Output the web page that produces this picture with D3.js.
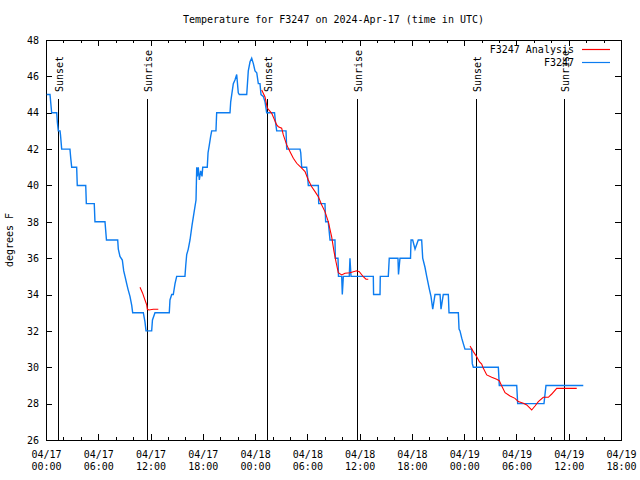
<!DOCTYPE html>
<html>
<head>
<meta charset="utf-8">
<script src="https://cdn.jsdelivr.net/npm/d3@7"></script>
<style>
  html, body { margin: 0; padding: 0; background: #fff; }
  svg { display: block; }
  text { font-family: "DejaVu Sans Mono", "Liberation Mono", monospace; font-size: 10px; fill: #000; }
</style>
</head>
<body>
<svg id="chart" width="640" height="480"></svg>
<script>
// ---------------- DATA ----------------
const titleText = "Temperature for F3247 on 2024-Apr-17 (time in UTC)";
const yLabelText = "degrees F";
const seriesNames = ["F3247 Analysis", "F3247"];

// Observations (hours after 2024-04-17 00:00 UTC, degrees F)
const obsHours = [0.08,0.46,0.65,1.23,1.30,1.41,1.61,1.66,1.80,2.75,2.84,2.95,3.52,3.59,4.56,4.63,5.54,5.62,6.77,6.94,8.23,8.30,8.49,8.76,8.92,9.07,9.26,9.41,9.64,9.84,9.95,11.17,11.36,11.48,12.13,12.22,12.51,14.15,14.23,14.43,14.61,14.81,15.00,15.95,16.04,16.15,16.33,16.53,16.76,16.99,17.22,17.30,17.37,17.48,17.60,17.76,17.91,17.99,18.51,18.60,18.74,18.90,19.02,19.51,19.59,21.12,21.20,21.32,21.50,21.69,21.89,22.07,22.19,23.04,23.22,23.42,23.61,23.80,23.99,24.19,24.37,24.56,24.68,24.94,25.14,25.33,26.23,26.34,26.48,27.55,27.63,29.16,29.24,29.35,29.92,29.99,30.11,31.26,31.30,32.02,32.10,32.40,32.60,32.79,33.17,33.21,33.52,33.57,33.94,34.01,34.13,34.81,34.89,35.01,37.57,37.60,38.34,38.37,39.29,39.40,40.40,40.46,40.63,41.84,41.90,42.09,42.36,42.73,43.12,43.24,43.50,43.70,44.00,44.19,44.39,44.65,45.23,45.34,45.60,46.18,46.26,47.33,47.41,47.52,47.72,47.90,48.09,48.86,48.93,49.05,51.92,52.03,54.03,54.14,57.16,57.39,61.67];
const obsTemps = [45,45,44,44,43.5,43,43,42.8,42,42,41.5,41,41,40,40,39,39,38,38,37,37,36.5,36.1,35.9,35.3,35,34.6,34.3,33.9,33.4,33,33,32.5,32,32,32.6,33,33,33.7,34,34,34.6,35,35,35.6,36.2,36.5,37,37.8,38.5,39.2,41,40.5,41,40.3,40.8,40.5,41,41,41.8,42.2,42.7,43,43,44,44,44.6,45,45.6,45.8,46.1,45.1,45,45,46.3,46.8,47,46.7,46.3,46.2,45.6,45.6,45,44.9,44.6,44,44,43.5,43,43,42,42,41.8,41,41,40.7,40,40,39,39,38,38,37,37,37,36,36,35,35,34,35,35,36,35,35,34,34,35,35,36,36,35.1,36,36,37,37,36.5,37,37,36,35.5,35,34.3,33.9,33.2,34,34,33.2,34,34,33,33,32.1,32,31.6,31.3,31,31,30.2,30,30,29,29,28,28,29,29];

// Analysis (null separates the segments)
const anaHours = [10.79,11.08,11.36,11.56,11.63,11.82,12.32,12.89,null,
  24.76,25.14,25.40,25.91,26.48,26.67,27.05,27.24,27.63,28.01,28.39,28.78,29.35,29.73,30.11,30.50,30.88,31.26,31.65,32.02,32.40,32.79,33.06,33.29,33.55,33.94,34.32,34.89,35.66,35.96,36.42,36.73,36.99,null,
  48.67,49.05,49.44,49.74,50.01,50.20,50.59,51.16,51.73,52.03,52.31,52.69,53.26,53.83,54.21,54.79,55.18,55.75,56.13,56.51,57.08,57.66,58.05,58.62,60.92];
const anaTemps = [34.4,34.09,33.7,33.43,33.19,33.15,33.19,33.19,null,
  45.25,44.87,44.26,43.97,43.33,43.23,43.15,42.78,42.23,41.86,41.5,41.22,40.95,40.76,40.3,39.93,39.66,39.38,38.93,38.56,38.01,37.17,36.36,35.79,35.2,35.08,35.17,35.2,35.31,35.26,34.98,34.84,34.84,null,
  31.17,30.86,30.58,30.31,30.18,29.94,29.58,29.45,29.34,29.26,28.97,28.6,28.42,28.29,28.11,28.02,27.93,27.65,27.87,28.11,28.35,28.35,28.53,28.84,28.84];

// Sun events (hours after 2024-04-17 00:00 UTC)
const sunLabels = ["Sunset","Sunrise","Sunset","Sunrise","Sunset","Sunrise"];
const sunHours  = [1.32, 11.63, 25.37, 35.66, 49.36, 59.49];
const sunLineTopTemp = 44.75;

const yTicks = [26,28,30,32,34,36,38,40,42,44,46,48];
const xMajorStepHours = 6, xMinorStepHours = 2, xSpanHours = 66;

// ---------------- DRAW ----------------
const W = 640, H = 480;
const plot = { left: 46, right: 621, top: 40, bottom: 440 };
const t0 = Date.UTC(2024, 3, 17, 0, 0);
const hToDate = h => new Date(t0 + h * 3600e3);

const x = d3.scaleUtc().domain([hToDate(0), hToDate(xSpanHours)]).range([plot.left, plot.right]);
const y = d3.scaleLinear().domain([26, 48]).range([plot.bottom, plot.top]);

const svg = d3.select("#chart");
svg.append("rect").attr("width", W).attr("height", H).attr("fill", "#fff");

const majorDates = d3.range(0, xSpanHours + 0.01, xMajorStepHours).map(hToDate);
const minorDates = d3.range(0, xSpanHours + 0.01, xMinorStepHours).filter(h => h % xMajorStepHours !== 0).map(hToDate);

const fmtDay = d3.utcFormat("%m/%d"), fmtTime = d3.utcFormat("%H:%M");

// bottom axis (major with labels)
const gx = svg.append("g").attr("transform", `translate(0,${plot.bottom})`)
  .call(d3.axisBottom(x).tickValues(majorDates).tickSizeInner(-6).tickSizeOuter(0).tickPadding(11).tickFormat(fmtDay));
gx.selectAll(".tick text").each(function(d) {
  const t = d3.select(this);
  t.text(null).attr("dy", null);
  t.append("tspan").attr("x", 0).attr("dy", "0.71em").text(fmtDay(d));
  t.append("tspan").attr("x", 0).attr("dy", "1.15em").text(fmtTime(d));
});
svg.append("g").attr("transform", `translate(0,${plot.bottom})`)
  .call(d3.axisBottom(x).tickValues(minorDates).tickSizeInner(-3).tickSizeOuter(0).tickFormat(""));
// top axis (mirror)
svg.append("g").attr("transform", `translate(0,${plot.top})`)
  .call(d3.axisTop(x).tickValues(majorDates).tickSizeInner(-6).tickSizeOuter(0).tickFormat(""));
svg.append("g").attr("transform", `translate(0,${plot.top})`)
  .call(d3.axisTop(x).tickValues(minorDates).tickSizeInner(-3).tickSizeOuter(0).tickFormat(""));
// left axis
svg.append("g").attr("transform", `translate(${plot.left},0)`)
  .call(d3.axisLeft(y).tickValues(yTicks).tickSizeInner(-6).tickSizeOuter(0).tickPadding(7).tickFormat(d3.format("d")));
// right axis (mirror)
svg.append("g").attr("transform", `translate(${plot.right},0)`)
  .call(d3.axisRight(y).tickValues(yTicks).tickSizeInner(-6).tickSizeOuter(0).tickFormat(""));

svg.selectAll(".domain").remove();
svg.selectAll(".tick line").attr("stroke", "#000").attr("shape-rendering", "crispEdges");
svg.selectAll(".tick text").attr("font-family", null).attr("font-size", null).attr("fill", "#000");

// border
svg.append("rect")
  .attr("x", plot.left + 0.5).attr("y", plot.top + 0.5)
  .attr("width", plot.right - plot.left).attr("height", plot.bottom - plot.top)
  .attr("fill", "none").attr("stroke", "#000").attr("shape-rendering", "crispEdges");

// sun event lines
const sunData = sunHours.map((h, i) => ({ t: hToDate(h), label: sunLabels[i] }));
const sg = svg.append("g");
sg.selectAll("line").data(sunData).join("line")
  .attr("x1", d => Math.round(x(d.t)) + 0.5).attr("x2", d => Math.round(x(d.t)) + 0.5)
  .attr("y1", y(sunLineTopTemp)).attr("y2", y(26))
  .attr("stroke", "#000").attr("shape-rendering", "crispEdges");
sg.selectAll("text").data(sunData).join("text")
  .attr("transform", d => `translate(${Math.round(x(d.t)) + 5},${y(sunLineTopTemp) - 7}) rotate(-90)`)
  .attr("text-anchor", "start")
  .text(d => d.label);

// series lines
const obs = obsHours.map((h, i) => ({ t: hToDate(h), v: obsTemps[i] }));
const ana = anaHours.map((h, i) => ({ t: h === null ? null : hToDate(h), v: anaTemps[i] }));

const line = d3.line().defined(d => d.t !== null && d.v !== null).x(d => x(d.t)).y(d => y(d.v));

const blue = "#0c7cf0", red = "#ff0000";
svg.append("path").datum(obs).attr("d", line)
  .attr("fill", "none").attr("stroke", blue).attr("stroke-width", 1.4).attr("stroke-linejoin", "miter");
svg.append("path").datum(ana).attr("d", line)
  .attr("fill", "none").attr("stroke", red).attr("stroke-width", 1.1);

// legend
const legend = svg.append("g");
const legColors = [red, blue];
seriesNames.forEach((name, i) => {
  const ly = 49 + i * 13;
  legend.append("text").attr("x", 574).attr("y", ly).attr("dy", "0.35em").attr("text-anchor", "end").text(name);
  legend.append("line").attr("x1", 582).attr("x2", 610).attr("y1", ly + 0.5).attr("y2", ly + 0.5)
    .attr("stroke", legColors[i]).attr("stroke-width", 1.2);
});

// title
svg.append("text").attr("x", (plot.left + plot.right) / 2).attr("y", 23)
  .attr("text-anchor", "middle").text(titleText);

// y label
svg.append("text").attr("transform", `translate(13,${(plot.top + plot.bottom) / 2}) rotate(-90)`)
  .attr("text-anchor", "middle").text(yLabelText);
</script>
</body>
</html>
